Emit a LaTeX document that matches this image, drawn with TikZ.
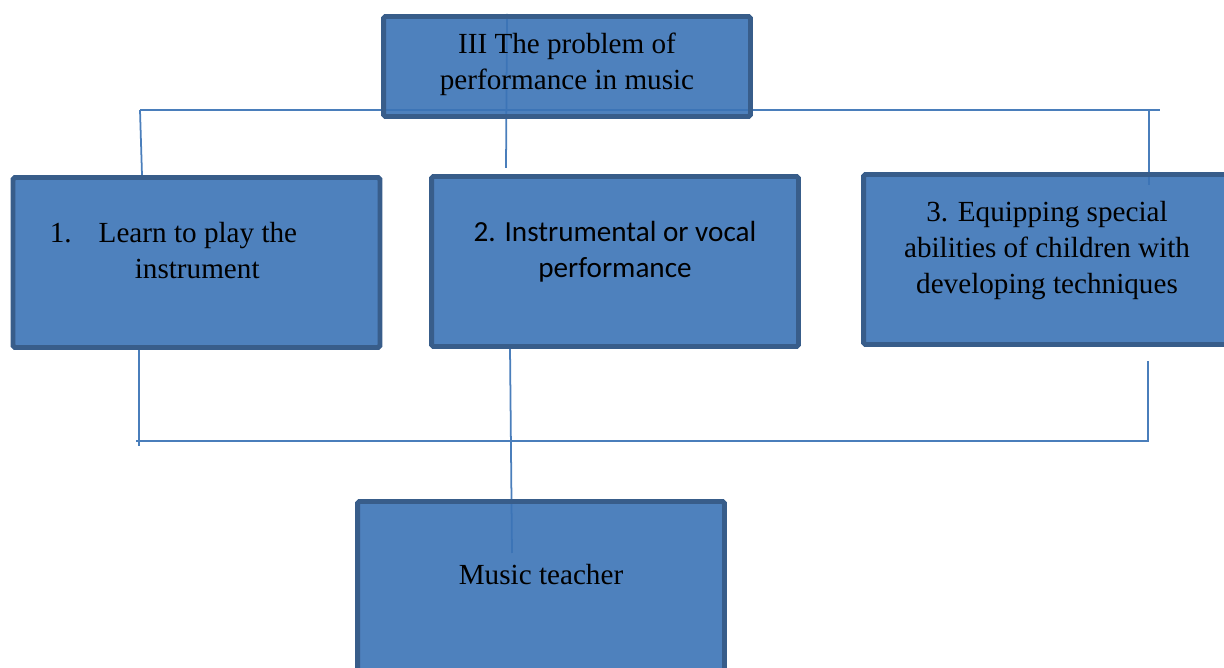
\documentclass[tikz,border=0pt]{standalone}
\usepackage{fontspec}
\setmainfont{Liberation Serif}
\newfontfamily\calibri{Carlito}
\definecolor{boxfill}{RGB}{59,115,182}
\definecolor{boxline}{HTML}{385D8A}
\definecolor{linkline}{HTML}{4A7EBB}
\newcommand{\lowstrut}[1]{\rule[-#1]{0pt}{#1}}
\begin{document}
\begin{tikzpicture}[x=0.02cm,y=-0.02cm,
  box/.style={draw=boxline,line width=2.8pt,fill=boxfill,fill opacity=0.9,draw opacity=1,text opacity=1,
    rounded corners=1pt,minimum width=7.34cm,minimum height=3.4cm,align=center,
    font=\fontsize{16.6pt}{20.5pt}\selectfont},
  link/.style={draw=linkline,line width=1pt}]
\useasboundingbox (0,0) rectangle (1224,668);
% connector ends
\coordinate (tl) at (140,110);
\coordinate (tr) at (1160,110);
\coordinate (tk) at (1149,110);
\coordinate (l1) at (142,175);
\coordinate (r1) at (1149,185);
\coordinate (m0) at (507,14);
\coordinate (m1) at (506,168);
\coordinate (bl) at (136,441);
\coordinate (bk) at (1149,441);
\coordinate (l2) at (139,348);
\coordinate (l3) at (139,446);
\coordinate (r2) at (1148,361);
\coordinate (r3) at (1148,441);
\coordinate (m2) at (510,347);
\coordinate (m3) at (512,553);
\draw[link] (tl) -- (tr);
\draw[link] (tl) -- (l1);
\draw[link] (tk) -- (r1);
\draw[link] (m0) -- (m1);
\draw[link] (bl) -- (bk);
\draw[link] (l2) -- (l3);
\draw[link] (r2) -- (r3);
\draw[link] (m2) -- (m3);
% boxes
\node[box,minimum height=2cm] (prob) at (567,66.5) {III The problem of\\performance in music\lowstrut{0.2cm}};
\node[box,align=left] (learn) at (196.5,262.5) {1.\hspace{0.54cm}Learn to play the\hspace*{0.92cm}\\\hspace*{1.7cm}instrument\lowstrut{0.47cm}};
\node[box,font=\calibri\fontsize{16.6pt}{20.5pt}\selectfont] (perf) at (615,261.5) {2. Instrumental or vocal\\performance\lowstrut{0.47cm}};
\node[box] (equip) at (1047,259.5) {3. Equipping special\\abilities of children with\\developing techniques\lowstrut{0.47cm}};
\node[box] (teacher) at (541,586.5) {Music teacher\lowstrut{0.47cm}};
\end{tikzpicture}
\end{document}
